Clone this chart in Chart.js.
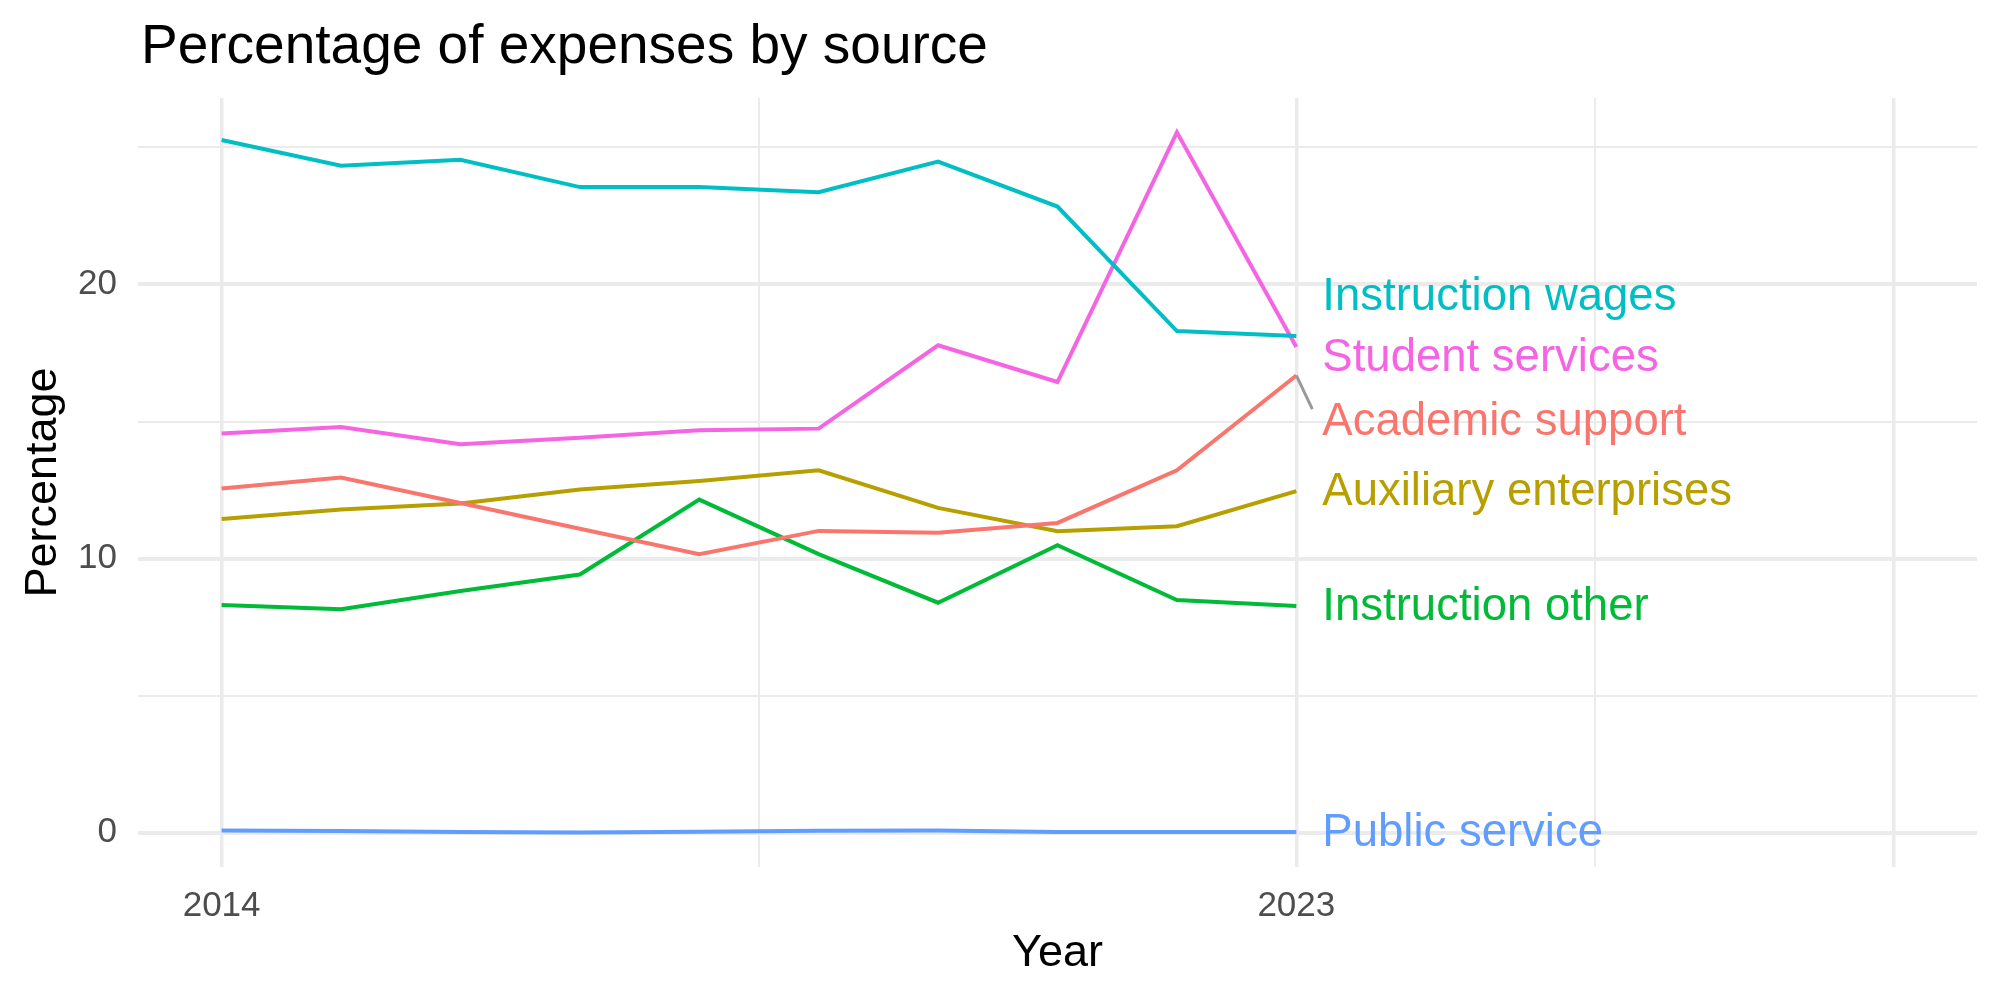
<!DOCTYPE html>
<html>
<head>
<meta charset="utf-8">
<title>Percentage of expenses by source</title>
<script src="https://cdn.jsdelivr.net/npm/chart.js@4/dist/chart.umd.min.js"></script>
<style>
  body { margin: 0; background: #fff; }
  canvas { display: block; }
</style>
</head>
<body>
<canvas id="chart" width="2000" height="1000"></canvas>
<script>
const years = [2014, 2015, 2016, 2017, 2018, 2019, 2020, 2021, 2022, 2023];

const academicSupport = [12.56, 12.96, 12.03, 11.09, 10.16, 11.01, 10.94, 11.30, 13.22, 16.68];
const auxiliaryEnterprises = [11.44, 11.79, 12.01, 12.52, 12.83, 13.22, 11.85, 11.00, 11.18, 12.46];
const instructionOther = [8.31, 8.15, 8.82, 9.42, 12.15, 10.16, 8.39, 10.49, 8.49, 8.27];
const instructionWages = [25.27, 24.33, 24.55, 23.55, 23.55, 23.36, 24.48, 22.84, 18.30, 18.12];
const publicService = [0.08, 0.06, 0.03, 0.01, 0.04, 0.07, 0.08, 0.03, 0.03, 0.03];
const studentServices = [14.56, 14.80, 14.17, 14.41, 14.68, 14.74, 17.78, 16.44, 25.55, 17.72];

const seriesNames = ['Academic support', 'Auxiliary enterprises', 'Instruction other',
  'Instruction wages', 'Public service', 'Student services'];
const seriesValues = [academicSupport, auxiliaryEnterprises, instructionOther,
  instructionWages, publicService, studentServices];
const seriesColors = ['#F8766D', '#B79F00', '#00BA38', '#00BFC4', '#619CFF', '#F564E3'];

// where the repelled end labels sit (y in data units)
const labelY = [14.97, 12.42, 8.20, 19.53, -0.04, 17.30];

const yTicks = [0, 5, 10, 15, 20, 25];
const xTicks = [2014, 2018.5, 2023, 2025.5, 2028];
const xLabelled = [2014, 2023];
const xMajor = [2014, 2023, 2028];

const FONT = "'Liberation Sans', Arial, Helvetica, sans-serif";
const GRID = '#EBEBEB';

const datasets = seriesNames.map((name, i) => ({
  label: name,
  data: years.map((y, j) => ({ x: y, y: seriesValues[i][j] })),
  borderColor: seriesColors[i],
  backgroundColor: seriesColors[i],
  borderWidth: 4,
  pointRadius: 0,
  tension: 0,
  fill: false
}));

// title aligned to the panel, plus the end-of-line labels
const annotate = {
  id: 'annotate',
  afterDraw(chart) {
    const ctx = chart.ctx;
    const xs = chart.scales.x, ys = chart.scales.y;
    ctx.save();
    ctx.fillStyle = '#000';
    ctx.font = '55px ' + FONT;
    ctx.textAlign = 'left';
    ctx.textBaseline = 'alphabetic';
    ctx.fillText('Percentage of expenses by source', chart.chartArea.left + 3, 63);

    const last = years.length - 1;
    const px = xs.getPixelForValue(years[last]);

    // repel segment for Academic support
    const ai = seriesNames.indexOf('Academic support');
    ctx.strokeStyle = '#999999';
    ctx.lineWidth = 3;
    ctx.beginPath();
    ctx.moveTo(px, ys.getPixelForValue(seriesValues[ai][last]));
    ctx.lineTo(px + 16, ys.getPixelForValue(15.45));
    ctx.stroke();

    ctx.font = '45.5px ' + FONT;
    ctx.textBaseline = 'middle';
    seriesNames.forEach((name, i) => {
      ctx.fillStyle = seriesColors[i];
      ctx.fillText(name, px + 26, ys.getPixelForValue(labelY[i]));
    });
    ctx.restore();
  }
};

new Chart(document.getElementById('chart'), {
  type: 'line',
  data: { datasets: datasets },
  options: {
    responsive: false,
    animation: false,
    layout: { padding: { top: 98, right: 23, left: 0, bottom: 0 } },
    plugins: {
      legend: { display: false },
      tooltip: { enabled: false }
    },
    scales: {
      x: {
        type: 'linear',
        min: 2013.3,
        max: 2028.7,
        afterFit: s => { s.height = 133; },
        afterBuildTicks: s => { s.ticks = xTicks.map(v => ({ value: v })); },
        border: { display: false },
        grid: {
          color: GRID,
          drawTicks: false,
          lineWidth: c => (c.tick && xMajor.includes(c.tick.value)) ? 3.5 : 2
        },
        ticks: {
          padding: 18,
          color: '#4D4D4D',
          font: { family: FONT, size: 35 },
          maxRotation: 0,
          autoSkip: false,
          callback: v => xLabelled.includes(v) ? String(v) : ''
        },
        title: {
          display: true,
          text: 'Year',
          color: '#000',
          font: { family: FONT, size: 45 },
          padding: { top: 19, bottom: 19 }
        }
      },
      y: {
        type: 'linear',
        min: -1.25,
        max: 26.8,
        afterFit: s => { s.width = 138; },
        afterBuildTicks: s => { s.ticks = yTicks.map(v => ({ value: v })); },
        border: { display: false },
        grid: {
          color: GRID,
          drawTicks: false,
          lineWidth: c => (c.tick && c.tick.value % 10 === 0) ? 4 : 2
        },
        ticks: {
          padding: 21,
          color: '#4D4D4D',
          font: { family: FONT, size: 35 },
          autoSkip: false,
          callback: v => v % 10 === 0 ? String(v) : ''
        },
        title: {
          display: true,
          text: 'Percentage',
          color: '#000',
          font: { family: FONT, size: 45 },
          padding: { top: 17, bottom: 17 }
        }
      }
    }
  },
  plugins: [annotate]
});
</script>
</body>
</html>
